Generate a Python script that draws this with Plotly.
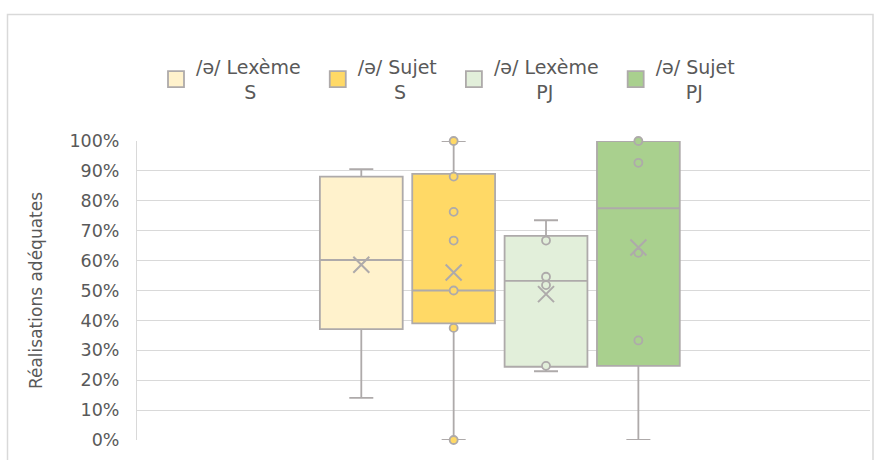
import plotly.graph_objects as go

# ---- data (values in %) ----
NB = "\u00a0"
series_names = ["/ə/ Lexème" + NB * 2 + "<br>" + NB * 8 + "S",
                "/ə/ Sujet" + NB * 2 + "<br>" + NB * 6 + "S",
                "/ə/ Lexème" + NB * 2 + "<br>" + NB * 7 + "PJ",
                "/ə/ Sujet" + NB * 2 + "<br>" + NB * 5 + "PJ"]
q1_vals = [37.1, 39.0, 24.5, 24.8]
median_vals = [60.2, 50.0, 53.2, 77.5]
q3_vals = [88.1, 89.0, 68.3, 100.0]
lower_whisker = [14.1, 0.0, 23.0, 0.0]
upper_whisker = [90.6, 100.0, 73.5, 100.0]
mean_vals = [58.6, 56.0, 48.8, 64.4]
inner_points = [
    [],
    [100.0, 88.1, 76.3, 66.7, 50.0, 37.5, 0.0],
    [66.7, 54.6, 51.8, 24.8],
    [100.0, 92.7, 62.6, 33.3],
]
y_ticks = list(range(0, 101, 10))
y_tick_labels = [f"{v}%" for v in y_ticks]
y_title = "Réalisations adéquates"

# ---- styles ----
fills = ["#FFF2CC", "#FFD966", "#E2EFDA", "#A9D08E"]
edge = "#AEAAAA"
grid = "#D9D9D9"
text_col = "#595959"
font_family = "DejaVu Sans"

slot = 0.126
centre = -0.005
box_w = 0.113
n = len(series_names)
positions = [centre + (i - (n - 1) / 2) * slot for i in range(n)]

fig = go.Figure()
for i in range(n):
    fig.add_trace(go.Box(
        x=[positions[i]], q1=[q1_vals[i]], median=[median_vals[i]], q3=[q3_vals[i]],
        lowerfence=[lower_whisker[i]], upperfence=[upper_whisker[i]],
        width=box_w, whiskerwidth=0.29, boxpoints=False,
        fillcolor=fills[i], line=dict(color=edge, width=1.8),
        showlegend=False, hoverinfo="skip",
    ))
    if inner_points[i]:
        fig.add_trace(go.Scatter(
            x=[positions[i]] * len(inner_points[i]), y=inner_points[i], mode="markers",
            marker=dict(symbol="circle", size=8, color=fills[i], line=dict(color=edge, width=1.8)),
            showlegend=False, hoverinfo="skip", cliponaxis=False,
        ))
    fig.add_trace(go.Scatter(
        x=[positions[i]], y=[mean_vals[i]], mode="markers",
        marker=dict(symbol="x-thin", size=16, color=edge, line=dict(color=edge, width=2)),
        showlegend=False, hoverinfo="skip", cliponaxis=False,
    ))
    # legend entry
    fig.add_trace(go.Scatter(
        x=[None], y=[None], mode="markers", name=series_names[i],
        marker=dict(symbol="square", size=16, color=fills[i], line=dict(color=edge, width=1.8)),
        hoverinfo="skip",
    ))

L, R, T, B = 137, 4, 141, 20
W, H = 874, 460
pw, ph = W - L - R, H - T - B

def px_x(p):
    return (p - L) / pw

def px_y(p):
    return (H - B - p) / ph

fig.update_layout(
    width=W, height=H,
    margin=dict(l=L, r=R, t=T, b=B, autoexpand=False),
    paper_bgcolor="white", plot_bgcolor="white",
    font=dict(family=font_family, color=text_col, size=17),
    showlegend=True,
    legend=dict(orientation="h", x=px_x(156), xanchor="left", y=px_y(48), yanchor="top",
                font=dict(size=19, color=text_col), itemsizing="trace",
                bgcolor="rgba(0,0,0,0)"),
    xaxis=dict(range=[-0.5, 0.5], showgrid=False, zeroline=False, showticklabels=False,
               showline=False, fixedrange=True),
    yaxis=dict(range=[0, 100], tickmode="array", tickvals=y_ticks, ticktext=y_tick_labels,
               showgrid=True, gridcolor=grid, gridwidth=1, zeroline=False, showline=True,
               linecolor=grid, linewidth=1, tickfont=dict(size=17.5, color=text_col),
               ticklabelstandoff=13,
               title=dict(text=y_title, font=dict(size=17, color=text_col), standoff=22),
               automargin=False, fixedrange=True),
    shapes=[dict(type="rect", xref="paper", yref="paper",
                 x0=px_x(7.5), x1=px_x(873), y0=px_y(480), y1=px_y(14.5),
                 line=dict(color=grid, width=1.5), fillcolor="rgba(0,0,0,0)", layer="below")],
)

fig.write_html("out.html", config={"displayModeBar": False},
               post_script="document.body.style.margin='0';")
